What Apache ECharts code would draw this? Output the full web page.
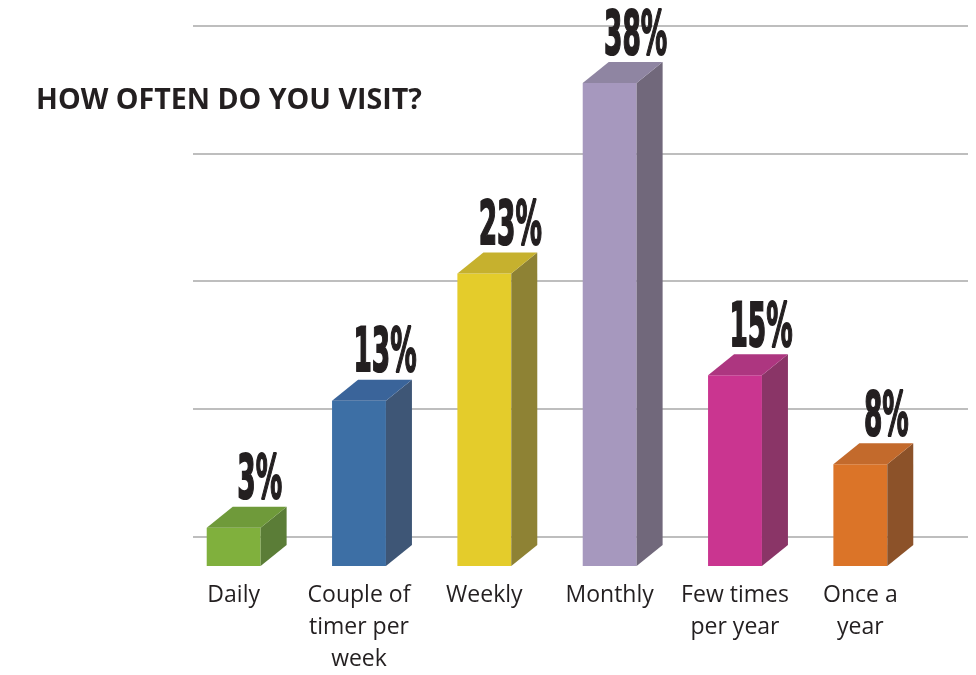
<!DOCTYPE html>
<html>
<head>
<meta charset="utf-8">
<script src="https://cdn.jsdelivr.net/npm/echarts@6/dist/echarts.min.js"></script>
<style>
  html, body { margin: 0; padding: 0; background: #fff; }
  #main { width: 976px; height: 675px; }
</style>
</head>
<body>
<div id="main"></div>
<script>
// data
var categories = ['Daily', 'Couple of\ntimer per\nweek', 'Weekly', 'Monthly', 'Few times\nper year', 'Once a\nyear']
var shares = [3, 13, 23, 38, 15, 8]
var shareLabels = ['3%', '13%', '23%', '38%', '15%', '8%']

// colours for the 3 faces of each bar
var frontColors = ['#80b03d', '#3d6fa5', '#e4cc2b', '#a698be', '#ca3590', '#db7428']
var sideColors = ['#5b7d37', '#3e5676', '#8e8234', '#71687b', '#8a3567', '#8c5229']
var topColors = ['#6f9a3a', '#3a649a', '#c6b12e', '#8f85a2', '#ad3680', '#c36a2c']

var myChart = echarts.init(document.getElementById('main'))

var DX = 26 // depth of the fake 3d, px
var DY = 21

function renderBar(params, api) {
  var i = api.value(0)
  var v = api.value(1)
  var top = api.coord([i, v])
  var base = api.coord([i, 0])
  var bw = api.size([1, 0])[0] * 0.43
  var l = top[0] - bw / 2
  var r = top[0] + bw / 2
  var t = top[1]
  var b = base[1]
  var k = params.dataIndex
  return {
    type: 'group',
    children: [
      {
        type: 'polygon',
        shape: { points: [[l, t], [r, t], [r, b], [l, b]] },
        style: { fill: frontColors[k] }
      },
      {
        type: 'polygon',
        shape: { points: [[r, t], [r + DX, t - DY], [r + DX, b - DY], [r, b]] },
        style: { fill: sideColors[k] }
      },
      {
        type: 'polygon',
        shape: { points: [[l, t], [l + DX, t - DY], [r + DX, t - DY], [r, t]] },
        style: { fill: topColors[k] }
      },
      {
        type: 'text',
        x: top[0] + DX,
        y: t - DY - 31 + 7,
        scaleX: 0.44,
        style: {
          text: shareLabels[k],
          fill: '#231f20',
          stroke: '#231f20',
          lineWidth: 2,
          font: 'bold 60px "DejaVu Sans"',
          align: 'center',
          verticalAlign: 'middle'
        }
      }
    ]
  }
}

var option = {
  backgroundColor: '#fff',
  animation: false,
  title: {
    text: 'HOW OFTEN DO YOU VISIT?',
    left: 31,
    top: 81,
    textStyle: {
      fontFamily: 'Open Sans',
      fontWeight: 'bold',
      fontSize: 28.6,
      color: '#231f20'
    }
  },
  grid: [
    // grid for the back wall lines
    { left: 193, right: 8, top: 25.5, bottom: 138.3 },
    // grid for the bars
    { left: 171, right: 53, top: 57.5, bottom: 107 }
  ],
  xAxis: [
    { gridIndex: 0, type: 'value', show: false, min: 0, max: 1 },
    {
      gridIndex: 1,
      type: 'category',
      data: categories,
      axisLine: { show: false },
      axisTick: { show: false },
      axisLabel: {
        interval: 0,
        margin: 13,
        fontFamily: 'Open Sans',
        fontSize: 23,
        lineHeight: 32,
        color: '#231f20'
      }
    }
  ],
  yAxis: [
    {
      gridIndex: 0,
      type: 'value',
      min: 0,
      max: 4,
      interval: 1,
      axisLine: { show: false },
      axisTick: { show: false },
      axisLabel: { show: false },
      splitLine: { lineStyle: { color: '#a8a8a8', width: 1.5 } }
    },
    {
      gridIndex: 1,
      type: 'value',
      min: 0,
      max: 40,
      show: false,
      splitLine: { show: false }
    }
  ],
  series: [
    {
      type: 'custom',
      xAxisIndex: 1,
      yAxisIndex: 1,
      renderItem: renderBar,
      data: shares.map(function(v, i) {
        return [i, v]
      })
    }
  ]
}

myChart.setOption(option)
</script>
</body>
</html>
